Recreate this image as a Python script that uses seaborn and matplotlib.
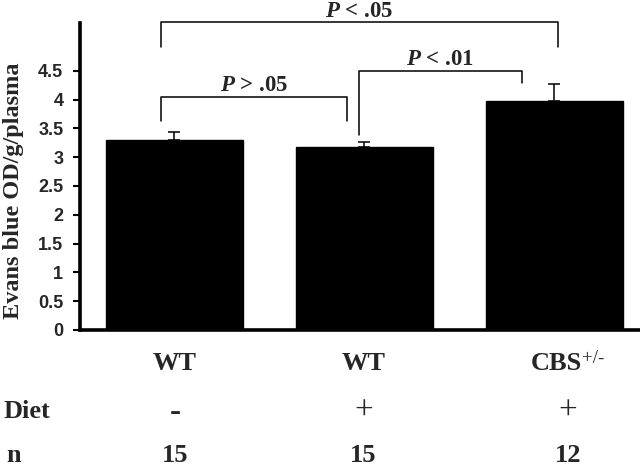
import matplotlib
matplotlib.use("Agg")
import matplotlib.pyplot as plt
import matplotlib.transforms as mtransforms
import seaborn as sns
import pandas as pd
import numpy as np

# ---- data ----
groups = ["WT", "WT ", "CBS"]
group_names = ["WT", "WT", "CBS"]
group_sup = ["", "", "+/-"]
diet = ["-", "+", "+"]
n_values = ["15", "15", "12"]
means = [3.30, 3.17, 3.98]
errors = [0.13, 0.10, 0.29]
yticks = [0, 0.5, 1, 1.5, 2, 2.5, 3, 3.5, 4, 4.5]
ytick_labels = ["0", "0.5", "1", "1.5", "2", "2.5", "3", "3.5", "4", "4.5"]
p_labels = [r"$P$ < .05", r"$P$ > .05", r"$P$ < .01"]

# ---- layout (bracket geometry in data units) ----
brackets = [
    # x1, x2, bar y, left leg bottom, right leg bottom, text y
    (-0.07, 2.02, 5.35, 4.92, 4.92, 5.52),
    (-0.07, 0.91, 4.05, 3.62, 3.62, 4.25),
    (0.97, 1.83, 4.50, 3.39, 4.29, 4.70),
]
col_x = [0.005, 0.995, 2.07]

sns.set_style("white")
plt.rcParams["mathtext.fontset"] = "custom"
plt.rcParams["mathtext.it"] = "Liberation Serif:italic:bold"
plt.rcParams["mathtext.rm"] = "Liberation Serif:bold"
plt.rcParams["mathtext.bf"] = "Liberation Serif:bold"

df = pd.DataFrame({"group": groups, "value": means})

fig = plt.figure(figsize=(6.4, 4.68), dpi=100)
ax = fig.add_axes([0.125, 0.295, 0.875, 0.656])

sns.barplot(data=df, x="group", y="value", color="black", width=0.72,
            saturation=1, errorbar=None, ax=ax, edgecolor="black")
xpos = np.arange(len(groups))
ax.errorbar(xpos, means, yerr=[np.zeros(len(errors)), errors], fmt="none",
            ecolor="black", elinewidth=1.1, capsize=4.5, capthick=1.1)

ax.set_xlim(-0.495, 2.45)
ax.set_ylim(0, 5.33)
ax.set_yticks(yticks)
ax.set_yticklabels(ytick_labels, fontfamily="Liberation Sans", fontweight="bold", fontsize=13)
ax.set_xticks([])
ax.set_xlabel("")
ax.set_ylabel("Evans blue OD/g/plasma", fontfamily="Liberation Serif",
              fontweight="bold", fontsize=17.5)
ax.yaxis.set_label_coords(-0.1, 0.455)
for s in ["top", "right"]:
    ax.spines[s].set_visible(False)
for s in ["left", "bottom"]:
    ax.spines[s].set_linewidth(2.6)
    ax.spines[s].set_color("black")
ax.tick_params(axis="y", direction="out", length=5, width=1.5, color="black", pad=7, left=True)

# brackets
for (x1, x2, yb, l1, l2, ty), lab in zip(brackets, p_labels):
    ax.plot([x1, x1, x2, x2], [l1, yb, yb, l2], color="black", lw=1.1, clip_on=False)
    ax.text((x1 + x2) / 2, ty, lab, ha="center", va="center", fontsize=16.5,
            fontfamily="Liberation Serif", fontweight="bold", clip_on=False)

# bottom table
trans = mtransforms.blended_transform_factory(ax.transData, fig.transFigure)
row_y = [1 - 364 / 468, 1 - 412 / 468, 1 - 455 / 468]
for i in range(len(groups)):
    if group_sup[i]:
        t = ax.text(col_x[i] - 0.06, row_y[0], group_names[i], transform=trans,
                    ha="center", va="center", fontsize=19,
                    fontfamily="Liberation Serif", fontweight="bold")
        ax.annotate(group_sup[i], xy=(1.0, 0.38), xycoords=t, ha="left", va="bottom",
                    fontsize=13.5, fontfamily="Liberation Serif")
    else:
        ax.text(col_x[i], row_y[0], group_names[i], transform=trans, ha="center",
                va="center", fontsize=19, fontfamily="Liberation Serif", fontweight="bold")
    if diet[i] == "-":
        ax.text(col_x[i], row_y[1], diet[i], transform=trans, ha="center", va="center",
                fontsize=24, fontfamily="Liberation Serif", fontweight="bold")
    else:
        ax.text(col_x[i], row_y[1], diet[i], transform=trans, ha="center", va="center",
                fontsize=24, fontfamily="Liberation Serif")
    ax.text(col_x[i], row_y[2], n_values[i], transform=trans, ha="center", va="center",
            fontsize=19, fontfamily="Liberation Serif", fontweight="bold")
fig.text(0.006, row_y[1], "Diet", ha="left", va="center", fontsize=19,
         fontfamily="Liberation Serif", fontweight="bold")
fig.text(0.01, row_y[2], "n", ha="left", va="center", fontsize=19,
         fontfamily="Liberation Serif", fontweight="bold")

fig.savefig("out.png", dpi=100)
